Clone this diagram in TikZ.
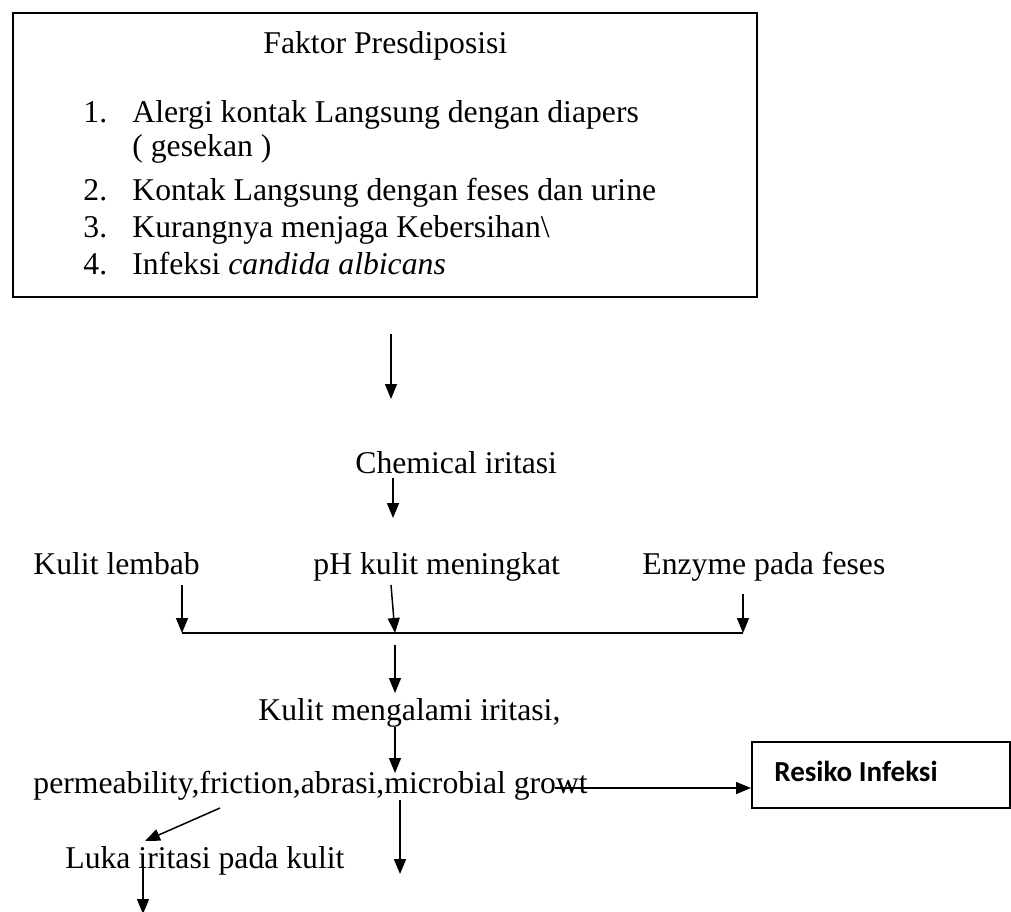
\documentclass[tikz,border=0pt]{standalone}
\usepackage{fontspec}
\setmainfont{Liberation Serif}
\newfontfamily\calib{Carlito}
\usetikzlibrary{arrows.meta}
\begin{document}
\begin{tikzpicture}[x=0.5pt,y=-0.5pt,
  txt/.style={inner sep=0pt,anchor=base west,font=\fontsize{15.85}{18}\selectfont},
  arr/.style={line width=0.75pt,-{Triangle[length=7.5pt,width=6pt]}},
  frame/.style={draw,line width=1pt,inner sep=0pt}]
\useasboundingbox (0,0) rectangle (1011,911);
% top box
\node[frame,minimum width=372pt,minimum height=142pt] (box) at (385,155) {};
\node[txt] (title) at (263,53) {Faktor Presdiposisi};
\node[txt] (n1) at (83,122) {1.};
\node[txt] (t1) at (132,122) {Alergi kontak Langsung dengan diapers};
\node[txt] (t1b) at (132,156) {( gesekan )};
\node[txt] (n2) at (83,200) {2.};
\node[txt] (t2) at (132,200) {Kontak Langsung dengan feses dan urine};
\node[txt] (n3) at (83,237) {3.};
\node[txt] (t3) at (132,237) {Kurangnya menjaga Kebersihan\textbackslash};
\node[txt] (n4) at (83,274) {4.};
\node[txt] (t4) at (132,274) {Infeksi \textit{candida albicans}};
% texts
\node[txt] (chem) at (355,473) {Chemical iritasi};
\node[txt] (lembab) at (33,574) {Kulit lembab};
\node[txt] (ph) at (313,574) {pH kulit meningkat};
\node[txt] (enz) at (642,574) {Enzyme pada feses};
\node[txt] (iri) at (258,720) {Kulit mengalami iritasi,};
\node[txt] (perm) at (33,793) {permeability,friction,abrasi,microbial growt};
\node[txt] (luka) at (65,868) {Luka iritasi pada kulit};
\node[frame,minimum width=129pt,minimum height=33pt] (res) at (881,775) {};
\node[inner sep=0pt,anchor=base west,font=\calib\bfseries\fontsize{14.5}{17}\selectfont] (rest) at (774,781) {Resiko Infeksi};
% coordinates
\coordinate (a1s) at (391,334); \coordinate (a1e) at (391,399);
\coordinate (a2s) at (393,478); \coordinate (a2e) at (393,518);
\coordinate (bl) at (182,633); \coordinate (bm) at (395,633); \coordinate (br) at (743,633);
\coordinate (l1) at (182,585); \coordinate (l2) at (391,585); \coordinate (l3) at (743,594);
\coordinate (a3s) at (395,645); \coordinate (a3e) at (395,693);
\coordinate (a4s) at (395,727); \coordinate (a4e) at (395,773);
\coordinate (a5s) at (555,788);
\coordinate (a6s) at (220,808); \coordinate (a6e) at (145,841);
\coordinate (a7s) at (400,800); \coordinate (a7e) at (400,874);
\coordinate (a8s) at (143,865); \coordinate (a8e) at (143,914);
% connectors
\draw[arr] (a1s) -- (a1e);
\draw[arr] (a2s) -- (a2e);
\draw[arr] (l1) -- (bl);
\draw[arr] (l2) -- (bm);
\draw[arr] (l3) -- (br);
\draw[line width=1pt] (bl) -- (br);
\draw[arr] (a3s) -- (a3e);
\draw[arr] (a4s) -- (a4e);
\draw[arr] (a5s) -- (res.west |- a5s);
\draw[arr] (a6s) -- (a6e);
\draw[arr] (a7s) -- (a7e);
\draw[arr] (a8s) -- (a8e);
\end{tikzpicture}
\end{document}
